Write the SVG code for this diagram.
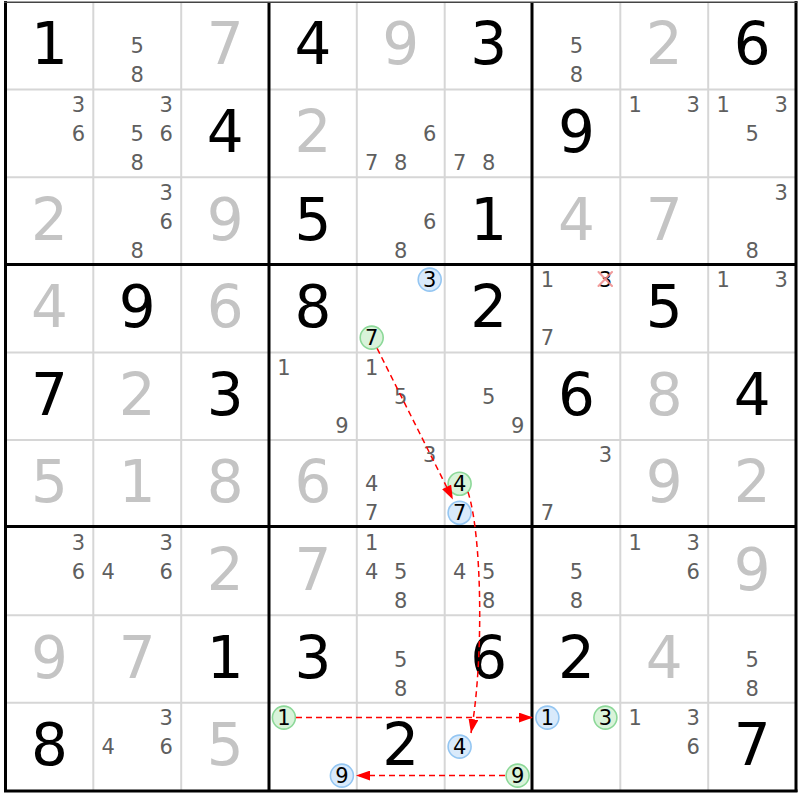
<svg xmlns="http://www.w3.org/2000/svg" width="800" height="800" viewBox="0 0 800 800">
<style>
text{font-family:"DejaVu Sans","Liberation Sans",sans-serif;text-anchor:middle}
.g{font-size:58px;fill:#000}
.s{font-size:58px;fill:#c4c4c4}
.c{font-size:21px;fill:#5f5f5f}
.k{font-size:21px;fill:#000}
.thin{stroke:#d6d6d6;stroke-width:2}
.thick{stroke:#000;stroke-width:3}
.cb{fill:#d9eafb;stroke:#94c6f2;stroke-width:1.6}
.cg{fill:#d9f3da;stroke:#8cd898;stroke-width:1.6}
.arr{fill:none;stroke:#f00;stroke-width:1.5;stroke-dasharray:6 4;marker-end:url(#ah)}
.x{stroke:#f08a8a;stroke-width:2;stroke-linecap:round;opacity:0.85}
</style>
<defs>
<marker id="ah" markerWidth="14" markerHeight="10" refX="14" refY="5" orient="auto" markerUnits="userSpaceOnUse"><path d="M0,0 L14,5 L0,10 z" fill="#f00"/></marker>
</defs>
<rect width="800" height="800" fill="#fff"/>
<g id="grid">
<line class="thin" x1="93.3" y1="2" x2="93.3" y2="790.5"/>
<line class="thin" x1="181.2" y1="2" x2="181.2" y2="790.5"/>
<line class="thin" x1="356.8" y1="2" x2="356.8" y2="790.5"/>
<line class="thin" x1="444.7" y1="2" x2="444.7" y2="790.5"/>
<line class="thin" x1="620.3" y1="2" x2="620.3" y2="790.5"/>
<line class="thin" x1="708.2" y1="2" x2="708.2" y2="790.5"/>
<line class="thin" x1="5.5" y1="89.6" x2="796" y2="89.6"/>
<line class="thin" x1="5.5" y1="177.2" x2="796" y2="177.2"/>
<line class="thin" x1="5.5" y1="352.4" x2="796" y2="352.4"/>
<line class="thin" x1="5.5" y1="440" x2="796" y2="440"/>
<line class="thin" x1="5.5" y1="615.2" x2="796" y2="615.2"/>
<line class="thin" x1="5.5" y1="702.8" x2="796" y2="702.8"/>
<line class="thick" x1="269" y1="2" x2="269" y2="790.5"/>
<line class="thick" x1="532" y1="2" x2="532" y2="790.5"/>
<line class="thick" x1="5.5" y1="264.5" x2="796" y2="264.5"/>
<line class="thick" x1="5.5" y1="526.5" x2="796" y2="526.5"/>
<line class="thick" x1="5.5" y1="1" x2="5.5" y2="792"/>
<line class="thick" x1="796" y1="1" x2="796" y2="792"/>
<line class="thick" x1="4" y1="791" x2="797.5" y2="791"/>
<line stroke="#444" stroke-width="1.5" x1="4" y1="2.2" x2="797.5" y2="2.2"/>
</g>
<g id="r0c0"><text class="g" x="49.4" y="64.3">1</text></g>
<g id="r0c1"><text class="c" x="137.2" y="53.4">5</text><text class="c" x="137.2" y="82.4">8</text></g>
<g id="r0c2"><text class="s" x="225.1" y="64.3">7</text></g>
<g id="r0c3"><text class="g" x="312.9" y="64.3">4</text></g>
<g id="r0c4"><text class="s" x="400.7" y="64.3">9</text></g>
<g id="r0c5"><text class="g" x="488.6" y="64.3">3</text></g>
<g id="r0c6"><text class="c" x="576.4" y="53.4">5</text><text class="c" x="576.4" y="82.4">8</text></g>
<g id="r0c7"><text class="s" x="664.2" y="64.3">2</text></g>
<g id="r0c8"><text class="g" x="752.1" y="64.3">6</text></g>

<g id="r1c0"><text class="c" x="78.4" y="112">3</text><text class="c" x="78.4" y="141">6</text></g>
<g id="r1c1"><text class="c" x="166.2" y="112">3</text><text class="c" x="137.2" y="141">5</text><text class="c" x="166.2" y="141">6</text><text class="c" x="137.2" y="170">8</text></g>
<g id="r1c2"><text class="g" x="225.1" y="151.9">4</text></g>
<g id="r1c3"><text class="s" x="312.9" y="151.9">2</text></g>
<g id="r1c4"><text class="c" x="429.7" y="141">6</text><text class="c" x="371.7" y="170">7</text><text class="c" x="400.7" y="170">8</text></g>
<g id="r1c5"><text class="c" x="459.6" y="170">7</text><text class="c" x="488.6" y="170">8</text></g>
<g id="r1c6"><text class="g" x="576.4" y="151.9">9</text></g>
<g id="r1c7"><text class="c" x="635.2" y="112">1</text><text class="c" x="693.2" y="112">3</text></g>
<g id="r1c8"><text class="c" x="723.1" y="112">1</text><text class="c" x="781.1" y="112">3</text><text class="c" x="752.1" y="141">5</text></g>

<g id="r2c0"><text class="s" x="49.4" y="239.5">2</text></g>
<g id="r2c1"><text class="c" x="166.2" y="199.6">3</text><text class="c" x="166.2" y="228.6">6</text><text class="c" x="137.2" y="257.6">8</text></g>
<g id="r2c2"><text class="s" x="225.1" y="239.5">9</text></g>
<g id="r2c3"><text class="g" x="312.9" y="239.5">5</text></g>
<g id="r2c4"><text class="c" x="429.7" y="228.6">6</text><text class="c" x="400.7" y="257.6">8</text></g>
<g id="r2c5"><text class="g" x="488.6" y="239.5">1</text></g>
<g id="r2c6"><text class="s" x="576.4" y="239.5">4</text></g>
<g id="r2c7"><text class="s" x="664.2" y="239.5">7</text></g>
<g id="r2c8"><text class="c" x="781.1" y="199.6">3</text><text class="c" x="752.1" y="257.6">8</text></g>

<g id="r3c0"><text class="s" x="49.4" y="327.1">4</text></g>
<g id="r3c1"><text class="g" x="137.2" y="327.1">9</text></g>
<g id="r3c2"><text class="s" x="225.1" y="327.1">6</text></g>
<g id="r3c3"><text class="g" x="312.9" y="327.1">8</text></g>
<g id="r3c4"><circle class="cb" cx="429.7" cy="279.6" r="11.5"/><text class="k" x="429.7" y="287.2">3</text><circle class="cg" cx="371.7" cy="337.6" r="11.5"/><text class="k" x="371.7" y="345.2">7</text></g>
<g id="r3c5"><text class="g" x="488.6" y="327.1">2</text></g>
<g id="r3c6"><text class="c" x="547.4" y="287.2">1</text><text class="k" x="605.4" y="287.2">3</text><line class="x" x1="598.5" y1="272" x2="612" y2="286"/><line class="x" x1="612" y1="272" x2="598.5" y2="286"/><text class="c" x="547.4" y="345.2">7</text></g>
<g id="r3c7"><text class="g" x="664.2" y="327.1">5</text></g>
<g id="r3c8"><text class="c" x="723.1" y="287.2">1</text><text class="c" x="781.1" y="287.2">3</text></g>

<g id="r4c0"><text class="g" x="49.4" y="414.7">7</text></g>
<g id="r4c1"><text class="s" x="137.2" y="414.7">2</text></g>
<g id="r4c2"><text class="g" x="225.1" y="414.7">3</text></g>
<g id="r4c3"><text class="c" x="283.9" y="374.8">1</text><text class="c" x="341.9" y="432.8">9</text></g>
<g id="r4c4"><text class="c" x="371.7" y="374.8">1</text><text class="c" x="400.7" y="403.8">5</text></g>
<g id="r4c5"><text class="c" x="488.6" y="403.8">5</text><text class="c" x="517.6" y="432.8">9</text></g>
<g id="r4c6"><text class="g" x="576.4" y="414.7">6</text></g>
<g id="r4c7"><text class="s" x="664.2" y="414.7">8</text></g>
<g id="r4c8"><text class="g" x="752.1" y="414.7">4</text></g>

<g id="r5c0"><text class="s" x="49.4" y="502.3">5</text></g>
<g id="r5c1"><text class="s" x="137.2" y="502.3">1</text></g>
<g id="r5c2"><text class="s" x="225.1" y="502.3">8</text></g>
<g id="r5c3"><text class="s" x="312.9" y="502.3">6</text></g>
<g id="r5c4"><text class="c" x="429.7" y="462.4">3</text><text class="c" x="371.7" y="491.4">4</text><text class="c" x="371.7" y="520.4">7</text></g>
<g id="r5c5"><circle class="cg" cx="459.6" cy="483.8" r="11.5"/><text class="k" x="459.6" y="491.4">4</text><circle class="cb" cx="459.6" cy="512.8" r="11.5"/><text class="k" x="459.6" y="520.4">7</text></g>
<g id="r5c6"><text class="c" x="605.4" y="462.4">3</text><text class="c" x="547.4" y="520.4">7</text></g>
<g id="r5c7"><text class="s" x="664.2" y="502.3">9</text></g>
<g id="r5c8"><text class="s" x="752.1" y="502.3">2</text></g>

<g id="r6c0"><text class="c" x="78.4" y="550">3</text><text class="c" x="78.4" y="579">6</text></g>
<g id="r6c1"><text class="c" x="166.2" y="550">3</text><text class="c" x="108.2" y="579">4</text><text class="c" x="166.2" y="579">6</text></g>
<g id="r6c2"><text class="s" x="225.1" y="589.9">2</text></g>
<g id="r6c3"><text class="s" x="312.9" y="589.9">7</text></g>
<g id="r6c4"><text class="c" x="371.7" y="550">1</text><text class="c" x="371.7" y="579">4</text><text class="c" x="400.7" y="579">5</text><text class="c" x="400.7" y="608">8</text></g>
<g id="r6c5"><text class="c" x="459.6" y="579">4</text><text class="c" x="488.6" y="579">5</text><text class="c" x="488.6" y="608">8</text></g>
<g id="r6c6"><text class="c" x="576.4" y="579">5</text><text class="c" x="576.4" y="608">8</text></g>
<g id="r6c7"><text class="c" x="635.2" y="550">1</text><text class="c" x="693.2" y="550">3</text><text class="c" x="693.2" y="579">6</text></g>
<g id="r6c8"><text class="s" x="752.1" y="589.9">9</text></g>

<g id="r7c0"><text class="s" x="49.4" y="677.5">9</text></g>
<g id="r7c1"><text class="s" x="137.2" y="677.5">7</text></g>
<g id="r7c2"><text class="g" x="225.1" y="677.5">1</text></g>
<g id="r7c3"><text class="g" x="312.9" y="677.5">3</text></g>
<g id="r7c4"><text class="c" x="400.7" y="666.6">5</text><text class="c" x="400.7" y="695.6">8</text></g>
<g id="r7c5"><text class="g" x="488.6" y="677.5">6</text></g>
<g id="r7c6"><text class="g" x="576.4" y="677.5">2</text></g>
<g id="r7c7"><text class="s" x="664.2" y="677.5">4</text></g>
<g id="r7c8"><text class="c" x="752.1" y="666.6">5</text><text class="c" x="752.1" y="695.6">8</text></g>

<g id="r8c0"><text class="g" x="49.4" y="765.1">8</text></g>
<g id="r8c1"><text class="c" x="166.2" y="725.2">3</text><text class="c" x="108.2" y="754.2">4</text><text class="c" x="166.2" y="754.2">6</text></g>
<g id="r8c2"><text class="s" x="225.1" y="765.1">5</text></g>
<g id="r8c3"><circle class="cg" cx="283.9" cy="717.6" r="11.5"/><text class="k" x="283.9" y="725.2">1</text><circle class="cb" cx="341.9" cy="775.6" r="11.5"/><text class="k" x="341.9" y="783.2">9</text></g>
<g id="r8c4"><text class="g" x="400.7" y="765.1">2</text></g>
<g id="r8c5"><circle class="cb" cx="459.6" cy="746.6" r="11.5"/><text class="k" x="459.6" y="754.2">4</text><circle class="cg" cx="517.6" cy="775.6" r="11.5"/><text class="k" x="517.6" y="783.2">9</text></g>
<g id="r8c6"><circle class="cb" cx="547.4" cy="717.6" r="11.5"/><text class="k" x="547.4" y="725.2">1</text><circle class="cg" cx="605.4" cy="717.6" r="11.5"/><text class="k" x="605.4" y="725.2">3</text></g>
<g id="r8c7"><text class="c" x="635.2" y="725.2">1</text><text class="c" x="693.2" y="725.2">3</text><text class="c" x="693.2" y="754.2">6</text></g>
<g id="r8c8"><text class="g" x="752.1" y="765.1">7</text></g>

<g id="connectors">
<path class="arr" d="M377.1,348.3 L452.9,499.4"/>
<path class="arr" d="M468,492 C482,535 484,660 471,733"/>
<path class="arr" d="M296,717.6 L533,717.6"/>
<path class="arr" d="M505,775.6 L356,775.6"/>
</g>
</svg>
